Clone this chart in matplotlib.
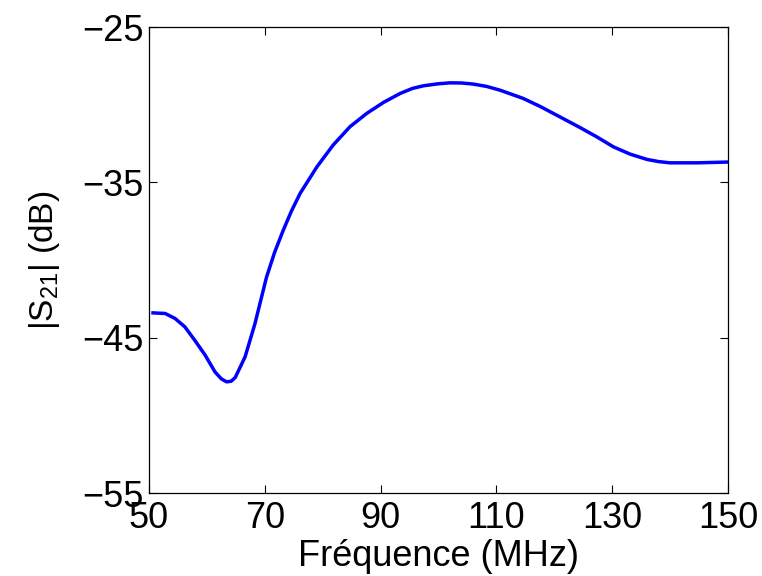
import numpy as np
import matplotlib.pyplot as plt

plt.rcParams['font.family'] = ['Liberation Sans', 'DejaVu Sans']
plt.rcParams['mathtext.default'] = 'regular'

# |S21|
freq_mhz = [50.7, 52.8, 54.5, 56.2, 57.9, 59.7, 61.4, 62.5, 63.4, 64.2, 64.9,
            66.6, 68.3, 69.7, 70.3, 71.7, 73.2, 74.6, 76.1, 79.0, 81.8, 84.7,
            87.6, 90.5, 93.4, 95.5, 97.4, 100.0, 102.0, 104.0, 106.0, 108.3,
            110.6, 114.6, 117.5, 120.4, 124.4, 127.3, 130.2, 133.1, 136.0,
            138.0, 140.0, 144.6, 150.0]
s21_db = [-43.40, -43.44, -43.76, -44.30, -45.16, -46.12, -47.20, -47.65,
          -47.84, -47.80, -47.56, -46.23, -44.10, -42.00, -41.10, -39.50,
          -38.07, -36.85, -35.71, -34.00, -32.60, -31.42, -30.56, -29.85,
          -29.27, -28.95, -28.78, -28.65, -28.59, -28.60, -28.67, -28.82,
          -29.06, -29.59, -30.10, -30.67, -31.46, -32.06, -32.71, -33.18,
          -33.52, -33.66, -33.74, -33.74, -33.69]

xticks = [50, 70, 90, 110, 130, 150]
yticks = [-55, -45, -35, -25]

fig = plt.figure(figsize=(7.62, 5.76), dpi=100)
ax = fig.add_axes([0.1955, 0.144, 0.7599, 0.809])

ax.plot(freq_mhz, s21_db, color='#0000ff', linewidth=2.5)

ax.set_xlim(50, 150)
ax.set_ylim(-55, -25)
ax.set_xticks(xticks)
ax.set_yticks(yticks)
ax.set_yticklabels(['\u2212' + str(-v) for v in yticks])
ax.tick_params(direction='in', length=6, width=0.8, labelsize=26,
               top=True, right=True, pad=4)
ax.tick_params(axis='x', pad=6)
for s in ax.spines.values():
    s.set_linewidth(0.9)

ax.set_xlabel('Fréquence (MHz)', fontsize=26)
ax.xaxis.set_label_coords(0.5, -0.098)
ax.set_ylabel('|S$_{21}$| (dB)', fontsize=24)
ax.yaxis.set_label_coords(-0.15, 0.5)

fig.savefig('out.png', dpi=100)
